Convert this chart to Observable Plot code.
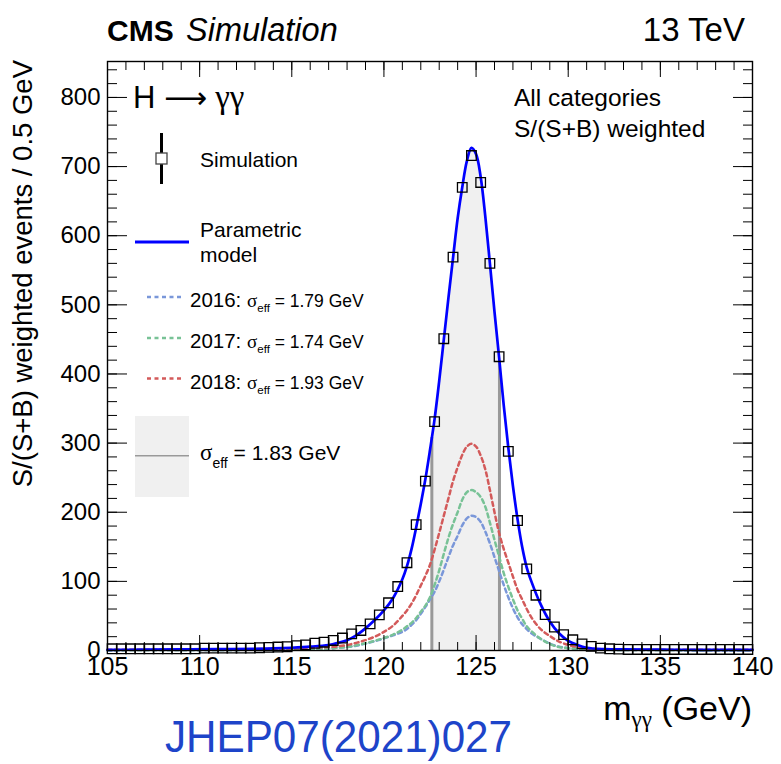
<!DOCTYPE html>
<html><head><meta charset="utf-8">
<script src="https://cdn.jsdelivr.net/npm/d3@7"></script>
<script src="https://cdn.jsdelivr.net/npm/@observablehq/plot@0.6"></script>
<style>body{margin:0;background:#fff;} svg{display:block} text{white-space:pre}</style>
</head><body><div id="chart"></div>
<script>
// ---- data ----
const massGrid = [105,107,109,111,113,114,115,116,117,117.5,118,118.5,119,119.5,120,120.5,121,121.25,121.5,121.75,122,122.25,122.5,122.75,123,123.25,123.5,123.75,124,124.25,124.5,124.75,125,125.25,125.5,125.75,126,126.25,126.5,126.75,127,127.25,127.5,127.75,128,128.5,129,129.5,130,130.5,131,132,133,135,137,140];
const modelValues = [1,1.2,1.5,2,2.5,3,4,5.5,8,11,15,22,32,44,58,76,103,122,147,178,212,248,290,335,390,450,510,568,625,670,708,727,718,685,628,560,490,424,355,293,238,190,150,120,100,67,42,25,14,8,4,2,1.5,1.2,1,1];
const y2018Values = [1,1,1.2,1.5,2,2.5,3,4,5,6,8,11,15,20,27,36,50,58,68,80,94,108,124,146,170,195,220,245,265,283,295,299,295,282,262,232,200,170,147,127,107,88,74,60,48,31,21,13,8,5,3,1.5,1.2,1,1,1];
const y2017Values = [0.5,0.6,0.7,0.8,1,1.2,1.5,2,3,4,5,7.5,10.5,14,18,23,30,35,40,47,56,65,77,95,116,140,163,183,200,218,229,232,229,222,208,185,160,136,112,92,74,58,46,35,28,17,9.5,5,3.5,2,1.5,1,0.8,0.6,0.5,0.5];
const y2016Values = [0.5,0.6,0.7,0.8,1,1.2,1.5,2,3,4,5,7,10,13.5,17.5,22,27,31,37,44,53,63,74,85,100,117,135,152,166,181,191,195,193,186,172,155,135,115,95,77,61,48,38,31,25,17,10,5.5,3.5,2.5,1.5,1,0.8,0.6,0.5,0.5];
const simBinCenters = d3.range(105.25, 140, 0.5);
const simValues = [2.5,2.5,2.5,2.5,2.5,2.5,2.5,2.5,2.5,2.5,3.5,3.5,3.5,3.5,3.5,3.5,4,4.5,5,5.5,7,8,10.5,12,14.5,18,24,29,38.5,51.5,69,92.5,127,182,245,331,451,569,670,716,677,560,425,288,188,118,80,52,34,23,15.5,9.5,6,3.5,2.5,2,1.5,1.5,1.5,1.5,1.5,1.5,1.5,1.5,1.5,1.5,1.5,1.5,1.5,1.5];
const bandEdgeMass = [122.6, 126.27];
const bandEdgeValue = [308, 419];
const xMajorTicks = [105,110,115,120,125,130,135,140];
const xTickLabels = ["105","110","115","120","125","130","135","140"];
const xMinorTicks = d3.range(105, 141, 1);
const yMajorTicks = [0,100,200,300,400,500,600,700,800];
const yTickLabels = ["0","100","200","300","400","500","600","700","800"];
const yMinorTicks = d3.range(0, 852, 20);
const seriesColors = {model: "#0000ff", y2016: "#7a97d9", y2017: "#78c296", y2018: "#d35a5a"};

// ---- tables ----
const curve = (vals) => massGrid.map((m, i) => ({m, v: vals[i]}));
const modelData = curve(modelValues);
const d2016 = curve(y2016Values), d2017 = curve(y2017Values), d2018 = curve(y2018Values);
const simData = simBinCenters.map((m, i) => ({m, v: simValues[i]}));
const edges = bandEdgeMass.map((m, i) => ({m, v: bandEdgeValue[i]}));
const bandData = [edges[0], ...modelData.filter(d => d.m > bandEdgeMass[0] && d.m < bandEdgeMass[1]), edges[1]];
const xLab = new Map(xMajorTicks.map((t, i) => [t, xTickLabels[i]]));
const yLab = new Map(yMajorTicks.map((t, i) => [t, yTickLabels[i]]));
const FONT = "Liberation Sans, Arial, Helvetica, sans-serif";
const GREEK = "Liberation Serif, DejaVu Serif, serif";
const blank = () => "";

const plot = Plot.plot({
  width: 781, height: 764,
  marginLeft: 107, marginRight: 29, marginTop: 61, marginBottom: 114,
  style: {fontFamily: FONT, background: "white", color: "black", fontSize: "24px"},
  x: {domain: [105, 140], axis: null, label: null},
  y: {domain: [0, 852], axis: null, label: null},
  marks: [
    Plot.areaY(bandData, {x: "m", y: "v", fill: "#f0f0f0", curve: "catmull-rom"}),
    Plot.ruleX(edges, {x: "m", y1: 0, y2: "v", stroke: "#999999", strokeWidth: 3}),
    Plot.line(d2016, {x: "m", y: "v", stroke: seriesColors.y2016, strokeWidth: 2.5, strokeDasharray: "4,3.5", curve: "catmull-rom"}),
    Plot.line(d2017, {x: "m", y: "v", stroke: seriesColors.y2017, strokeWidth: 2.5, strokeDasharray: "4,3.5", curve: "catmull-rom"}),
    Plot.line(d2018, {x: "m", y: "v", stroke: seriesColors.y2018, strokeWidth: 2.5, strokeDasharray: "4,3.5", curve: "catmull-rom"}),
    Plot.line(modelData, {x: "m", y: "v", stroke: seriesColors.model, strokeWidth: 2.7, curve: "catmull-rom"}),
    Plot.dot(simData, {x: "m", y: "v", symbol: "square", r: 5.4, stroke: "black", strokeWidth: 1.3, fill: "none"}),
    Plot.frame({stroke: "black", strokeWidth: 1.4}),
    // inward ticks on all four sides
    Plot.axisX(xMajorTicks, {anchor: "bottom", tickSize: -15, tickFormat: blank, label: null}),
    Plot.axisX(xMinorTicks, {anchor: "bottom", tickSize: -8, tickFormat: blank, label: null}),
    Plot.axisX(xMajorTicks, {anchor: "top", tickSize: -15, tickFormat: blank, label: null}),
    Plot.axisX(xMinorTicks, {anchor: "top", tickSize: -8, tickFormat: blank, label: null}),
    Plot.axisY(yMajorTicks, {anchor: "left", tickSize: -20, tickFormat: blank, label: null}),
    Plot.axisY(yMinorTicks, {anchor: "left", tickSize: -10, tickFormat: blank, label: null}),
    Plot.axisY(yMajorTicks, {anchor: "right", tickSize: -20, tickFormat: blank, label: null}),
    Plot.axisY(yMinorTicks, {anchor: "right", tickSize: -10, tickFormat: blank, label: null}),
    // tick labels
    Plot.axisX(xMajorTicks, {anchor: "bottom", tickSize: 0, tickPadding: 7, fontSize: 25, tickFormat: d => xLab.get(d), label: null}),
    Plot.axisY(yMajorTicks, {anchor: "left", tickSize: 0, tickPadding: 7, fontSize: 24, tickFormat: d => yLab.get(d), label: null})
  ]
});
document.getElementById("chart").appendChild(plot);

// ---- annotations and legend ----
const svg = d3.select(plot);
const g = svg.append("g").attr("font-family", FONT);
function label(x, y, parts, {anchor = "start", fill = "black", transform = null, textLength = null} = {}) {
  const t = g.append("text").attr("x", x).attr("y", y).attr("text-anchor", anchor).attr("fill", fill);
  if (transform) t.attr("transform", transform);
  if (textLength) t.attr("textLength", textLength).attr("lengthAdjust", "spacingAndGlyphs");
  for (const p of parts) {
    const s = t.append("tspan").text(p.t).attr("font-size", p.size);
    if (p.dy) s.attr("dy", p.dy);
    if (p.weight) s.attr("font-weight", p.weight);
    if (p.style) s.attr("font-style", p.style);
    if (p.family) s.attr("font-family", p.family);
  }
  return t;
}
label(107, 41, [{t: "CMS", size: 30, weight: "bold"}]);
label(186, 41, [{t: "Simulation", size: 32.5, style: "italic"}]);
label(745, 41, [{t: "13 TeV", size: 33}], {anchor: "end"});
label(133, 108, [{t: "H ", size: 31}, {t: "\u27f6", size: 30, family: "DejaVu Sans"}, {t: " \u03b3\u03b3", size: 33, family: GREEK}]);
label(514, 106, [{t: "All categories", size: 24.5}]);
label(514, 137, [{t: "S/(S+B) weighted", size: 24.5}]);
label(0, 0, [{t: "S/(S+B) weighted events / 0.5 GeV", size: 27.5}], {anchor: "end", transform: "translate(32,60) rotate(-90)"});
label(752, 720, [{t: "m", size: 34}, {t: "\u03b3\u03b3", size: 23, dy: 7, family: GREEK}, {t: " (GeV)", size: 34, dy: -7}], {anchor: "end"});
label(165, 752, [{t: "JHEP07(2021)027", size: 44}], {fill: "#1d44c9", textLength: 347});

// legend: simulation
g.append("line").attr("x1", 161.5).attr("x2", 161.5).attr("y1", 133).attr("y2", 184).attr("stroke", "black").attr("stroke-width", 3);
g.append("rect").attr("x", 156).attr("y", 153).attr("width", 11).attr("height", 11).attr("fill", "white").attr("stroke", "#444").attr("stroke-width", 1.3);
label(200, 167, [{t: "Simulation", size: 21}]);
// legend: model
g.append("line").attr("x1", 135).attr("x2", 189).attr("y1", 242).attr("y2", 242).attr("stroke", seriesColors.model).attr("stroke-width", 3);
label(200, 237, [{t: "Parametric", size: 21}]);
label(200, 262, [{t: "model", size: 21}]);
// legend: years
const years = [["2016", seriesColors.y2016, "1.79", 297], ["2017", seriesColors.y2017, "1.74", 338], ["2018", seriesColors.y2018, "1.93", 378.5]];
for (const [yr, col, s, yy] of years) {
  g.append("line").attr("x1", 147).attr("x2", 182).attr("y1", yy).attr("y2", yy).attr("stroke", col).attr("stroke-width", 2.5).attr("stroke-dasharray", "4,3.5");
  label(190, yy + 10, [{t: yr + ":", size: 20.5}]);
  label(247, yy + 10, [{t: "\u03c3", size: 19, family: GREEK}, {t: "eff", size: 11.5, dy: 5}, {t: " = " + s + " GeV", size: 17.5, dy: -5}]);
}
// legend: sigma_eff band
g.append("rect").attr("x", 135).attr("y", 416).attr("width", 54).attr("height", 81).attr("fill", "#f0f0f0");
g.append("line").attr("x1", 135).attr("x2", 189).attr("y1", 455.7).attr("y2", 455.7).attr("stroke", "#999").attr("stroke-width", 1.5);
label(200, 460, [{t: "\u03c3", size: 23, family: GREEK}, {t: "eff", size: 14, dy: 8}, {t: " = 1.83 GeV", size: 21, dy: -8}]);
</script>
</body></html>
